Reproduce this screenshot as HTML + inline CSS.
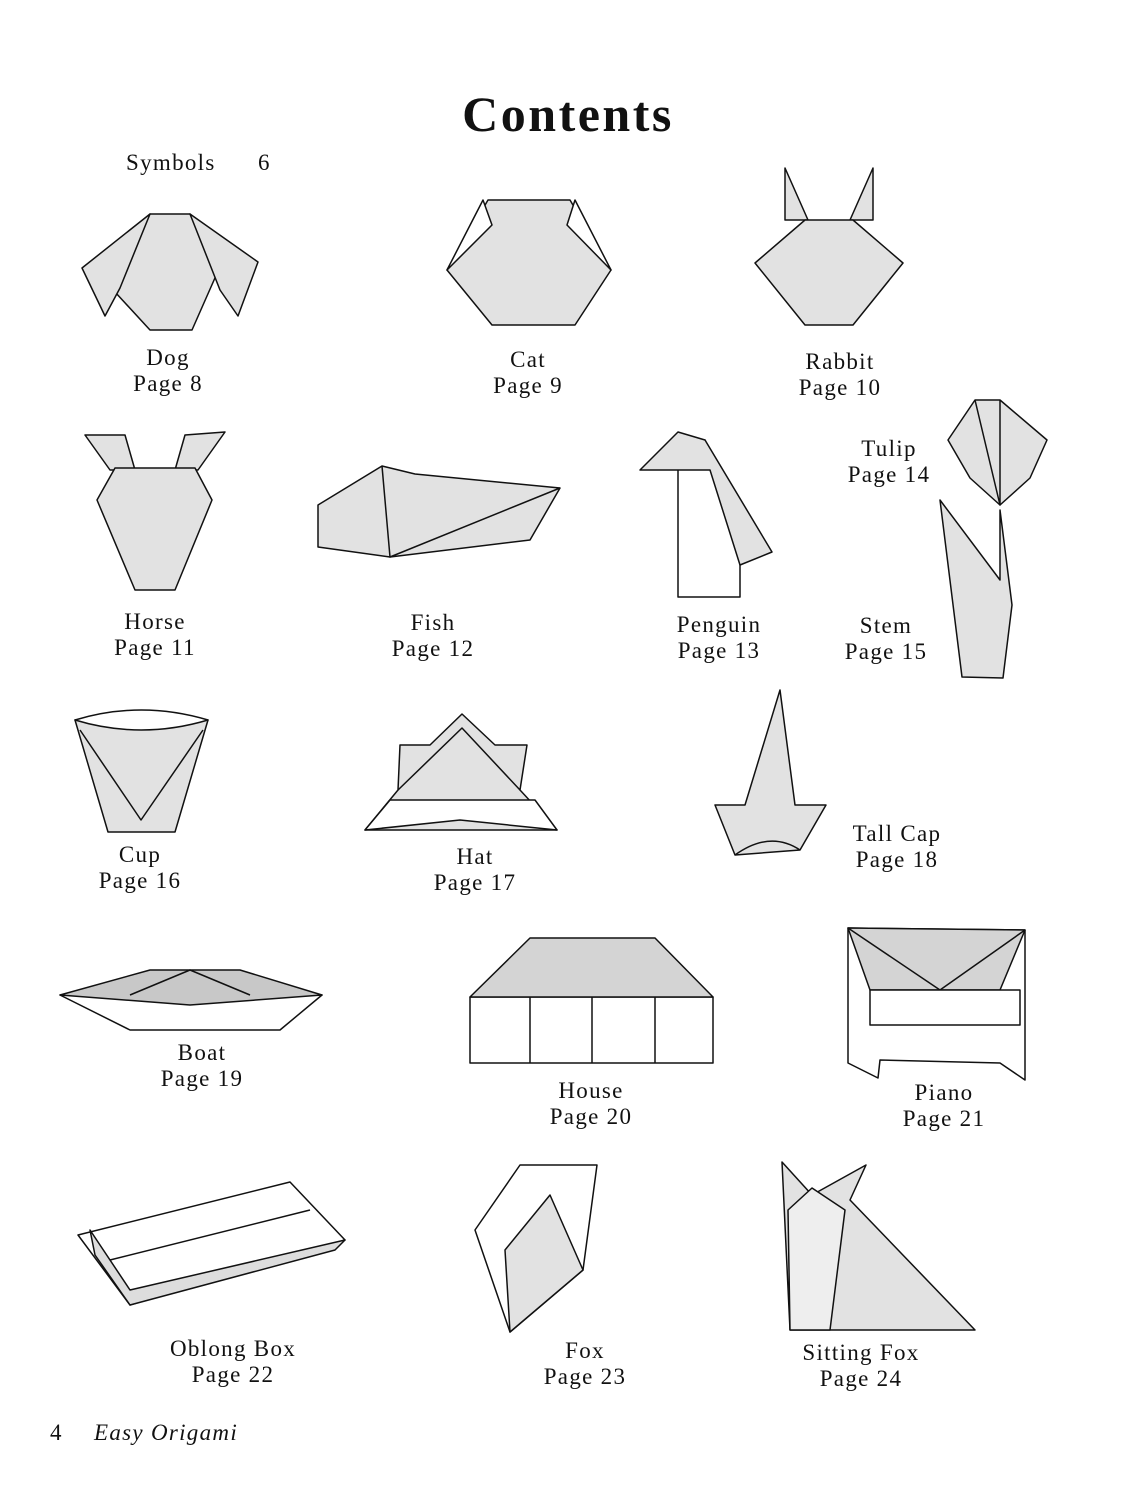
<!DOCTYPE html>
<html><head><meta charset="utf-8"><style>
html,body{margin:0;padding:0;background:#fff}
body{width:1125px;height:1500px;position:relative;overflow:hidden;font-family:"Liberation Serif",serif}
svg{position:absolute;left:0;top:0}
text{font-family:"Liberation Serif",serif;font-size:23px;fill:#111;letter-spacing:1.3px}
</style></head><body>
<svg width="1125" height="1500" viewBox="0 0 1125 1500">
<g fill="#e2e2e2" stroke="#111" stroke-width="1.5" stroke-linejoin="round">
<polygon points="150,214 190,214 222,262 192,330 150,330 115,292 118,262"/>
<polygon points="150,214 82,268 105,316 120,288"/>
<polygon points="190,214 258,262 238,316 220,290"/>
<polygon points="447,270 488,200 570,200 611,270 575,325 492,325"/>
<polygon points="447,270 483,200 492,225" fill="#fff"/>
<polygon points="611,270 575,200 567,225" fill="#fff"/>
<polygon points="785,168 808,220 785,220"/>
<polygon points="873,168 850,220 873,220"/>
<polygon points="755,263 805,220 853,220 903,263 853,325 805,325"/>
<polygon points="85,435 125,435 135,470 110,470"/>
<polygon points="225,432 185,435 175,470 198,470"/>
<polygon points="97,500 115,468 195,468 212,500 175,590 135,590"/>
<polygon points="318,505 382,466 415,474 560,488 530,540 390,557 318,547"/>
<polyline points="382,466 390,557 560,488" fill="none"/>
<polygon points="678,470 705,440 740,520 740,597 678,597" fill="#fff"/>
<polygon points="640,470 678,432 705,440 772,552 740,565 710,470"/>
<polygon points="948,440 975,400 1000,400 1047,440 1030,478 1000,505 970,478"/>
<polyline points="975,400 1000,505 1000,400" fill="none"/>
<polygon points="940,500 1000,580 1000,510 1012,605 1003,678 962,677"/>
<polygon points="75,720 208,720 175,832 108,832"/>
<path d="M75,720 Q141,700 208,720 Q141,740 75,720Z" fill="#fff"/>
<polyline points="80,730 141,820 203,730" fill="none"/>
<polygon points="365,830 398,790 400,745 430,745 462,714 495,745 527,745 520,790 557,830"/>
<polygon points="365,830 390,800 535,800 557,830 460,820" fill="#fff"/>
<polyline points="398,790 462,728 520,790" fill="none"/>
<polygon points="715,805 745,805 780,690 795,805 826,805 800,850 735,855"/>
<path d="M735,855 Q770,830 800,850" fill="none"/>
<polygon points="60,995 130,1030 280,1030 322,995" fill="#fff"/>
<polygon points="60,995 150,970 240,970 322,995 190,1005" fill="#c8c8c8"/>
<polyline points="130,995 190,970 250,995" fill="none"/>
<rect x="470" y="997" width="243" height="66" fill="#fff"/>
<polygon points="470,997 530,938 655,938 713,997" fill="#d4d4d4"/>
<line x1="592" y1="997" x2="592" y2="1063"/><line x1="530" y1="997" x2="530" y2="1063"/><line x1="655" y1="997" x2="655" y2="1063"/>
<polygon points="848,928 1025,930 1025,1080 1000,1063 880,1060 878,1078 848,1063" fill="#fff"/>
<polygon points="848,928 1025,930 1000,990 870,990" fill="#d4d4d4"/>
<polyline points="848,928 940,990 1025,930" fill="none"/>
<rect x="870" y="990" width="150" height="35" fill="#fff"/>
<polygon points="78,1235 290,1182 345,1240 130,1305" fill="#fff"/>
<polygon points="90,1230 130,1290 345,1240 335,1250 130,1305 95,1255" fill="#ddd"/>
<line x1="110" y1="1260" x2="310" y2="1210"/>
<polygon points="475,1230 520,1165 597,1165 583,1270 510,1332" fill="#fff"/>
<polygon points="505,1250 550,1195 583,1270 510,1332"/>
<polygon points="782,1162 812,1195 866,1165 850,1200 975,1330 790,1330"/>
<polygon points="788,1210 812,1188 845,1210 830,1330 790,1330" fill="#eee"/>
</g>
<text x="568" y="131" text-anchor="middle" style="font-size:50px;font-weight:bold;letter-spacing:2.5px">Contents</text>
<text x="126" y="170">Symbols</text><text x="258" y="170">6</text>
<g text-anchor="middle">
<text x="168" y="365">Dog</text><text x="168" y="391">Page 8</text>
<text x="528" y="367">Cat</text><text x="528" y="393">Page 9</text>
<text x="840" y="369">Rabbit</text><text x="840" y="395">Page 10</text>
<text x="889" y="456">Tulip</text><text x="889" y="482">Page 14</text>
<text x="155" y="629">Horse</text><text x="155" y="655">Page 11</text>
<text x="433" y="630">Fish</text><text x="433" y="656">Page 12</text>
<text x="719" y="632">Penguin</text><text x="719" y="658">Page 13</text>
<text x="886" y="633">Stem</text><text x="886" y="659">Page 15</text>
<text x="140" y="862">Cup</text><text x="140" y="888">Page 16</text>
<text x="475" y="864">Hat</text><text x="475" y="890">Page 17</text>
<text x="897" y="841">Tall Cap</text><text x="897" y="867">Page 18</text>
<text x="202" y="1060">Boat</text><text x="202" y="1086">Page 19</text>
<text x="591" y="1098">House</text><text x="591" y="1124">Page 20</text>
<text x="944" y="1100">Piano</text><text x="944" y="1126">Page 21</text>
<text x="233" y="1356">Oblong Box</text><text x="233" y="1382">Page 22</text>
<text x="585" y="1358">Fox</text><text x="585" y="1384">Page 23</text>
<text x="861" y="1360">Sitting Fox</text><text x="861" y="1386">Page 24</text>
</g>
<text x="50" y="1440">4</text>
<text x="94" y="1440" style="font-style:italic">Easy Origami</text>
</svg>
</body></html>
